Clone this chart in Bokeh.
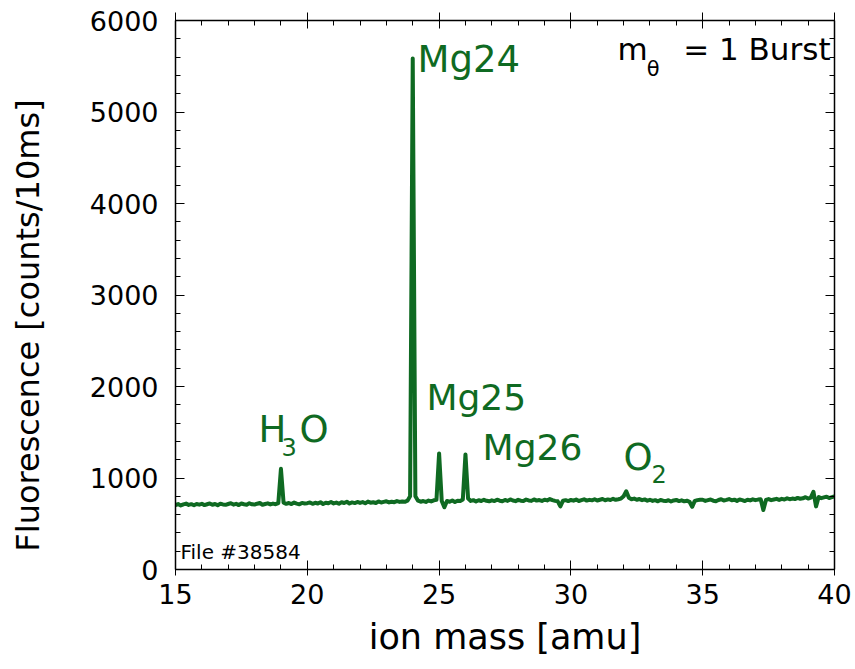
from bokeh.plotting import figure
from bokeh.models import (LinearAxis, SingleIntervalTicker, Label, Range1d,
                          CustomJSTickFormatter)
from bokeh.embed import file_html
from bokeh.resources import INLINE

# ---- data ----
mass = [15.0, 15.1, 15.2, 15.3, 15.4, 15.5, 15.6, 15.7, 15.8, 15.9,
        16.0, 16.1, 16.2, 16.3, 16.4, 16.5, 16.6, 16.7, 16.8, 16.9,
        17.0, 17.1, 17.2, 17.3, 17.4, 17.5, 17.6, 17.7, 17.8, 17.9,
        18.0, 18.1, 18.2, 18.3, 18.4, 18.5, 18.6, 18.7, 18.8, 18.9,
        19.0, 19.1, 19.2, 19.3, 19.4, 19.5, 19.6, 19.7, 19.8, 19.9,
        20.0, 20.1, 20.2, 20.3, 20.4, 20.5, 20.6, 20.7, 20.8, 20.9,
        21.0, 21.1, 21.2, 21.3, 21.4, 21.5, 21.6, 21.7, 21.8, 21.9,
        22.0, 22.1, 22.2, 22.3, 22.4, 22.5, 22.6, 22.7, 22.8, 22.9,
        23.0, 23.1, 23.2, 23.3, 23.4, 23.5, 23.6, 23.7, 23.8, 23.9,
        24.0, 24.1, 24.2, 24.3, 24.4, 24.5, 24.6, 24.7, 24.8, 24.9,
        25.0, 25.1, 25.2, 25.3, 25.4, 25.5, 25.6, 25.7, 25.8, 25.9,
        26.0, 26.1, 26.2, 26.3, 26.4, 26.5, 26.6, 26.7, 26.8, 26.9,
        27.0, 27.1, 27.2, 27.3, 27.4, 27.5, 27.6, 27.7, 27.8, 27.9,
        28.0, 28.1, 28.2, 28.3, 28.4, 28.5, 28.6, 28.7, 28.8, 28.9,
        29.0, 29.1, 29.2, 29.3, 29.4, 29.5, 29.6, 29.7, 29.8, 29.9,
        30.0, 30.1, 30.2, 30.3, 30.4, 30.5, 30.6, 30.7, 30.8, 30.9,
        31.0, 31.1, 31.2, 31.3, 31.4, 31.5, 31.6, 31.7, 31.8, 31.9,
        32.0, 32.1, 32.2, 32.3, 32.4, 32.5, 32.6, 32.7, 32.8, 32.9,
        33.0, 33.1, 33.2, 33.3, 33.4, 33.5, 33.6, 33.7, 33.8, 33.9,
        34.0, 34.1, 34.2, 34.3, 34.4, 34.5, 34.6, 34.7, 34.8, 34.9,
        35.0, 35.1, 35.2, 35.3, 35.4, 35.5, 35.6, 35.7, 35.8, 35.9,
        36.0, 36.1, 36.2, 36.3, 36.4, 36.5, 36.6, 36.7, 36.8, 36.9,
        37.0, 37.1, 37.2, 37.3, 37.4, 37.5, 37.6, 37.7, 37.8, 37.9,
        38.0, 38.1, 38.2, 38.3, 38.4, 38.5, 38.6, 38.7, 38.8, 38.9,
        39.0, 39.1, 39.2, 39.3, 39.4, 39.5, 39.6, 39.7, 39.8, 39.9,
        40.0]
counts = [705, 715, 700, 712, 720, 706, 714, 702, 716, 709,
          718, 704, 713, 722, 708, 716, 703, 719, 711, 707,
          716, 725, 709, 718, 704, 721, 713, 708, 724, 712,
          710, 719, 727, 708, 716, 723, 711, 720, 714, 726,
          1100, 730, 718, 727, 715, 731, 720, 712, 728, 722,
          725, 733, 718, 729, 721, 736, 716, 730, 724, 738,
          722, 731, 719, 735, 727, 740, 721, 733, 726, 738,
          728, 737, 724, 742, 730, 735, 727, 744, 732, 739,
          745, 733, 741, 736, 748, 739, 744, 740, 752, 800,
          5585, 800, 752, 741, 748, 738, 753, 744, 756, 762,
          1268, 750, 680, 748, 741, 754, 737, 752, 748, 765,
          1257, 775, 750, 758, 744, 757, 749, 762, 751, 745,
          756, 748, 763, 752, 746, 760, 750, 766, 754, 747,
          761, 752, 748, 764, 755, 750, 766, 753, 759, 749,
          763, 755, 770, 758, 750, 745, 690, 752, 758, 748,
          760, 752, 764, 749, 758, 767, 753, 761, 756, 768,
          754, 762, 770, 757, 766, 760, 773, 762, 768, 775,
          800, 855, 785, 768, 775, 762, 770, 758, 766, 752,
          762, 750, 758, 745, 760, 752, 748, 757, 743, 755,
          760, 748, 756, 745, 752, 740, 685, 750, 758, 762,
          762, 750, 758, 765, 752, 746, 760, 768, 754, 761,
          770, 756, 763, 750, 765, 758, 748, 762, 755, 767,
          758, 764, 768, 650, 760, 770, 758, 765, 772, 760,
          772, 765, 778, 768, 775, 770, 782, 773, 778, 790,
          775, 785, 850, 690, 792, 780, 788, 796, 781, 790,
          800]

x_ticks_major = 5
y_ticks_major = 1000

GREEN = "#0f6a22"
FONT = "DejaVu Sans"

p = figure(width=855, height=669, output_backend="svg", toolbar_location=None,
           x_range=Range1d(15, 40), y_range=Range1d(0, 6000),
           min_border_left=175, min_border_right=21,
           min_border_top=20, min_border_bottom=100)
p.outline_line_color = None
p.xgrid.visible = False
p.ygrid.visible = False
p.background_fill_color = "white"
p.border_fill_color = "white"

p.line(mass, counts, line_width=4, color=GREEN, line_join="round")

xt = SingleIntervalTicker(interval=x_ticks_major, num_minor_ticks=5)
yt = SingleIntervalTicker(interval=y_ticks_major, num_minor_ticks=5)

def style(ax, tin, tout):
    ax.axis_line_color = "black"
    ax.axis_line_width = 1.5
    ax.major_tick_line_color = "black"
    ax.minor_tick_line_color = "black"
    ax.major_tick_line_width = 1
    ax.minor_tick_line_width = 1
    ax.major_tick_in = tin
    ax.major_tick_out = tout
    ax.minor_tick_in = 5
    ax.minor_tick_out = 0

xa = p.xaxis[0]
xa.ticker = xt
style(xa, 9, 6)
xa.major_label_text_font = FONT
xa.major_label_text_font_size = "27px"
xa.major_label_text_color = "black"
xa.major_label_standoff = 8
xa.axis_label = "ion mass [amu]"
xa.axis_label_text_font = FONT
xa.axis_label_text_font_size = "35px"
xa.axis_label_text_font_style = "normal"
xa.axis_label_text_color = "black"
xa.axis_label_standoff = 10

ya = p.yaxis[0]
ya.ticker = yt
style(ya, 9, 0)
ya.major_label_text_font = FONT
ya.major_label_text_font_size = "27px"
ya.major_label_text_color = "black"
ya.major_label_standoff = 17
# trailing no-break spaces push the centred title a little downward, as in the original
ya.axis_label = "Fluorescence [counts/10ms]" + "\u00a0" * 6
ya.axis_label_text_font = FONT
ya.axis_label_text_font_size = "32px"
ya.axis_label_text_font_style = "normal"
ya.axis_label_text_color = "black"
ya.axis_label_standoff = 40

blank = CustomJSTickFormatter(code="return ''")
top = LinearAxis(ticker=SingleIntervalTicker(interval=x_ticks_major, num_minor_ticks=5),
                 formatter=blank, major_label_standoff=0)
style(top, 8, 8)
p.add_layout(top, "above")
right = LinearAxis(ticker=SingleIntervalTicker(interval=y_ticks_major, num_minor_ticks=5),
                   formatter=blank, major_label_standoff=0)
style(right, 9, 0)
p.add_layout(right, "right")

def lab(x, y, text, size, color=GREEN, align="left"):
    p.add_layout(Label(x=x, y=y, text=text, text_font=FONT,
                       text_font_size=size, text_color=color,
                       text_align=align, text_baseline="alphabetic"))

lab(24.18, 5570, "Mg24", "37px")
lab(24.52, 1883, "Mg25", "36px")
lab(26.65, 1337, "Mg26", "36px")
lab(18.15, 1530, "H", "37px")
lab(19.02, 1343, "3", "24px")
lab(19.70, 1530, "O", "37px")
lab(32.0, 1220, "O", "37px")
lab(33.06, 1048, "2", "24px")
lab(31.77, 5689, "m", "31px", color="black")
lab(32.88, 5475, "θ", "21px", color="black")
lab(39.85, 5689, "= 1 Burst", "31px", color="black", align="right")
lab(15.19, 188, "File #38584", "20px", color="black")

open("out.html", "w").write(file_html(p, INLINE))
